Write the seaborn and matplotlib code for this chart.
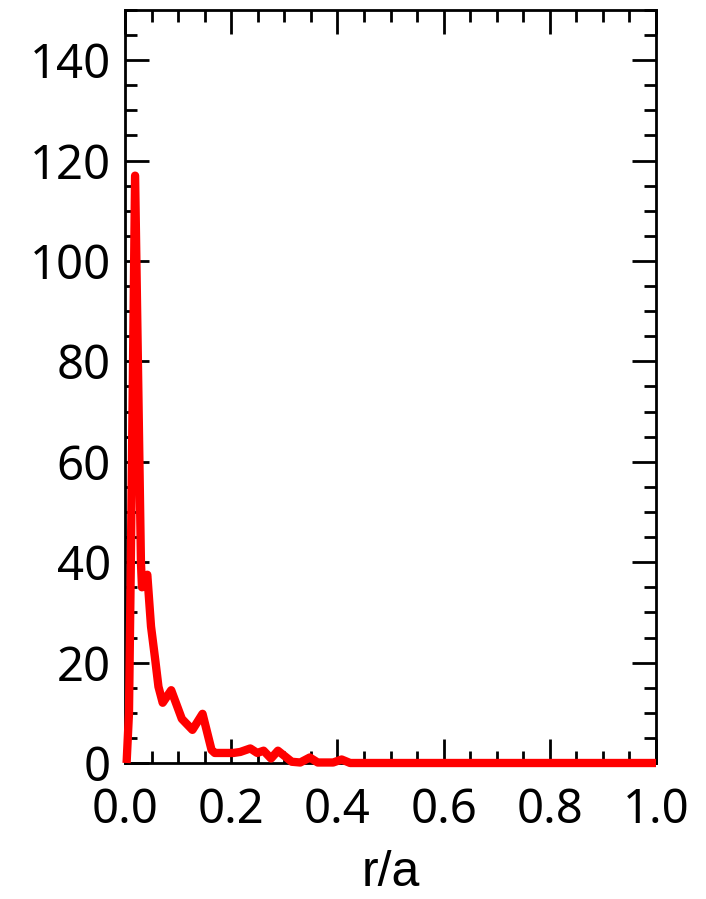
import matplotlib
matplotlib.use("Agg")
import matplotlib.pyplot as plt
from matplotlib.ticker import MultipleLocator
import seaborn as sns
import pandas as pd

# Radial profile samples
r_over_a = [0.003, 0.0075, 0.011, 0.019, 0.030, 0.032, 0.042, 0.049, 0.057,
            0.063, 0.071, 0.087, 0.107, 0.127, 0.146, 0.163, 0.169, 0.204,
            0.217, 0.236, 0.249, 0.261, 0.275, 0.288, 0.314, 0.330, 0.348,
            0.363, 0.392, 0.408, 0.424, 1.0]
profile = [0.0, 10.0, 40.0, 117.0, 40.0, 35.0, 37.5, 27.2, 20.5,
           15.2, 12.0, 14.5, 8.8, 6.6, 9.8, 2.6, 2.0, 2.0,
           2.2, 2.9, 2.0, 2.45, 0.9, 2.45, 0.25, 0.1, 1.1,
           0.1, 0.1, 0.7, 0.0, 0.0]

x_ticks = [0.0, 0.2, 0.4, 0.6, 0.8, 1.0]
y_ticks = [0, 20, 40, 60, 80, 100, 120, 140]

df = pd.DataFrame({"r/a": r_over_a, "value": profile})

sns.set_style("white")
plt.rcParams["font.family"] = ["Noto Sans", "DejaVu Sans"]
plt.rcParams["text.color"] = "black"
plt.rcParams["xtick.color"] = "black"
plt.rcParams["ytick.color"] = "black"
plt.rcParams["axes.labelcolor"] = "black"

fig = plt.figure(figsize=(7.06, 8.99), dpi=100)
ax = fig.add_axes([125 / 706, 1 - 763 / 899, 531 / 706, 753 / 899])

sns.lineplot(data=df, x="r/a", y="value", ax=ax, color="#ff0000",
             linewidth=6.0, estimator=None, sort=False)
for ln in ax.lines:
    ln.set_clip_on(False)
    ln.set_zorder(5)
    ln.set_solid_joinstyle("round")
    ln.set_solid_capstyle("butt")

ax.set_xlim(0, 1.0)
ax.set_ylim(0, 150)
ax.set_xticks(x_ticks)
ax.set_xticklabels([f"{v:.1f}" for v in x_ticks])
ax.set_yticks(y_ticks)
ax.set_yticklabels([str(v) for v in y_ticks])
ax.xaxis.set_minor_locator(MultipleLocator(0.05))
ax.yaxis.set_minor_locator(MultipleLocator(5))

for side in ["left", "right", "top", "bottom"]:
    ax.spines[side].set_visible(True)
    ax.spines[side].set_color("black")
    ax.spines[side].set_linewidth(2.0)

ax.tick_params(which="both", direction="in", top=True, right=True,
               bottom=True, left=True, color="black", width=2.0)
ax.tick_params(which="major", length=17)
ax.tick_params(which="minor", length=8.5)
ax.tick_params(axis="x", which="major", labelsize=34, pad=17,
               labelcolor="black")
ax.tick_params(axis="y", which="major", labelsize=34, pad=10,
               labelcolor="black")

ax.set_xlabel("r/a", fontsize=36, labelpad=12, color="black",
              family=["Liberation Sans", "DejaVu Sans"])
ax.set_ylabel("")

fig.savefig("out.png", dpi=100)
